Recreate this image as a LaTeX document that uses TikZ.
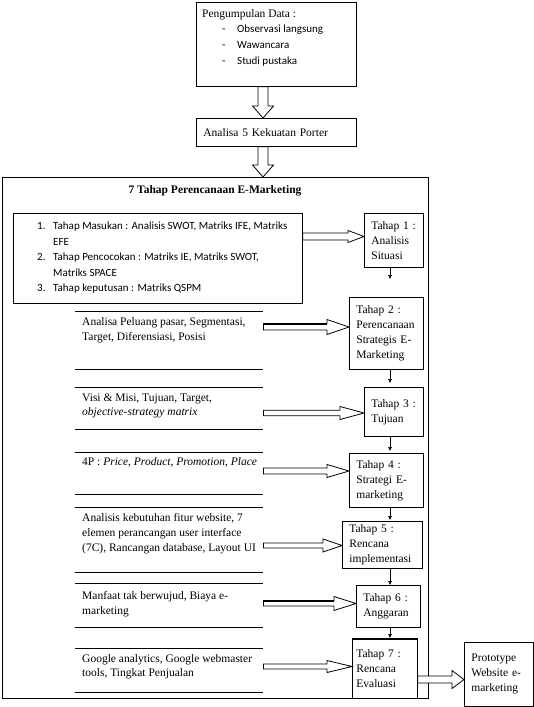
\documentclass[tikz,border=0pt]{standalone}
\usepackage{fontspec}
\setmainfont{Liberation Serif}
\newfontfamily\carl{Carlito}
\usetikzlibrary{arrows.meta,calc}
\tikzset{
  box/.style={draw, line width=0.8pt, anchor=north west, inner sep=0pt},
  tbox/.style={draw, line width=0.8pt, anchor=north west, align=left, inner xsep=7pt, inner ysep=0pt, font=\fontsize{11.5}{15}\selectfont},
  blk/.style={anchor=north west, inner sep=0pt, minimum width=188pt},
  ln/.style={anchor=west, inner sep=0pt, text height=8pt, text depth=2.5pt, font=\fontsize{11.5}{14}\selectfont},
  lnc/.style={ln, font=\carl\fontsize{11}{14}\selectfont},
  rulel/.style={line width=0.8pt},
  smallarr/.style={-{Latex[length=4pt,width=4pt]}, line width=0.5pt},
  barrow/.style={draw, line width=0.8pt, fill=white}
}
\newcommand\harr[5]{%
  \draw[barrow] let \p1=(#1), \p2=(#2) in
   (\x1,\y2+#3) -- (\x2-#5,\y2+#3) -- (\x2-#5,\y2+#4) -- (\x2,\y2)
   -- (\x2-#5,\y2-#4) -- (\x2-#5,\y2-#3) -- (\x1,\y2-#3) -- cycle;}
\newcommand\harrtop[5]{%
  \draw[line width=1.6pt] let \p1=(#1), \p2=(#2) in
   (\x1,\y2+#3) -- (\x2-#5,\y2+#3);}
\newcommand\varr[5]{%
  \draw[barrow] let \p1=(#1), \p2=(#2) in
   (\x2-#3,\y1) -- (\x2-#3,\y2+#5) -- (\x2-#4,\y2+#5) -- (\x2,\y2)
   -- (\x2+#4,\y2+#5) -- (\x2+#3,\y2+#5) -- (\x2+#3,\y1) -- cycle;}
\begin{document}
\begin{tikzpicture}[x=1pt,y=-1pt]
\useasboundingbox (0,0) rectangle (534,707);
\coordinate (xv) at (263,0);
\coordinate (xs) at (390,0);
% top boxes
\node[box, minimum width=160pt, minimum height=84pt] (data) at (196,2) {};
\node[ln] (d0) at (202,15) {Pengumpulan Data :};
\node[lnc] (d1m) at (222,30) {-};
\node[lnc] (d1) at (237,30) {Observasi langsung};
\node[lnc] (d2m) at (222,46) {-};
\node[lnc] (d2) at (237,46) {Wawancara};
\node[lnc] (d3m) at (222,62) {-};
\node[lnc] (d3) at (237,62) {Studi pustaka};
\node[tbox, minimum width=160pt, minimum height=28pt, text width=146pt] (ana) at (196,118) {Analisa 5 Kekuatan Porter};
% frame
\node[box, minimum width=426pt, minimum height=521pt] (frame) at (2,177) {};
\varr{data.south}{ana.north -| xv}{5pt}{10.5pt}{12pt}
\varr{ana.south}{frame.north -| xv}{5pt}{10.5pt}{12pt}
\node[font=\bfseries\fontsize{11.5}{14}\selectfont] (title) at (215,191) {7 Tahap Perencanaan E-Marketing};
% inner list box
\node[box, minimum width=289pt, minimum height=90pt] (list) at (13,213) {};
\node[lnc] (n1) at (37,227) {1.};
\node[lnc] (l1) at (53,227) {Tahap Masukan : Analisis SWOT, Matriks IFE, Matriks};
\node[lnc] (l1b) at (53,243) {EFE};
\node[lnc] (n2) at (37,258) {2.};
\node[lnc] (l2) at (53,258) {Tahap Pencocokan : Matriks IE, Matriks SWOT,};
\node[lnc] (l2b) at (53,274) {Matriks SPACE};
\node[lnc] (n3) at (37,289) {3.};
\node[lnc] (l3) at (53,289) {Tahap keputusan : Matriks QSPM};
% Tahap boxes
\node[tbox, minimum width=59pt, minimum height=54pt, text width=45pt] (T1) at (364,213) {Tahap 1 :\\Analisis\\Situasi};
\node[tbox, minimum width=74pt, minimum height=72pt, text width=60pt] (T2) at (349,297) {Tahap 2 :\\Perencanaan\\Strategis E-\\Marketing};
\node[tbox, minimum width=59pt, minimum height=49pt, text width=45pt] (T3) at (364,387) {Tahap 3 :\\Tujuan};
\node[tbox, minimum width=74pt, minimum height=54pt, text width=60pt] (T4) at (349,453) {Tahap 4 :\\Strategi E-\\marketing};
\node[tbox, minimum width=80pt, minimum height=47pt, text width=66pt] (T5) at (342,521) {Tahap 5 :\\Rencana\\implementasi};
\node[tbox, minimum width=64pt, minimum height=42pt, text width=50pt] (T6) at (356,585) {Tahap 6 :\\Anggaran};
\node[tbox, minimum width=65pt, minimum height=59pt, text width=57pt, inner xsep=4pt] (T7) at (352,639) {Tahap 7 :\\Rencana\\Evaluasi};
\draw[line width=1.8pt] (T7.north west) -- (T7.north east);
\node[tbox, minimum width=69pt, minimum height=64pt, text width=55pt] (P) at (464,642) {Prototype\\Website e-\\marketing};
% small arrows
\draw[smallarr, shorten >=18pt] (T1.south -| xs) -- (T2.north -| xs);
\draw[smallarr, shorten >=4pt] (T2.south -| xs) -- (T3.north -| xs);
\draw[smallarr, shorten >=2pt] (T3.south -| xs) -- (T4.north -| xs);
\draw[smallarr, shorten >=1pt] (T4.south -| xs) -- (T5.north -| xs);
\draw[smallarr] (T5.south -| xs) -- (T6.north -| xs);
\draw[smallarr, shorten >=1pt] (T6.south -| xs) -- (T7.north -| xs);
% left blocks
\node[blk, minimum height=58pt] (bA) at (75,311) {};
\node[blk, minimum height=42pt] (bB) at (75,387) {};
\node[blk, minimum height=42pt] (bC) at (75,452) {};
\node[blk, minimum height=65pt] (bD) at (75,507) {};
\node[blk, minimum height=44pt] (bE) at (75,583) {};
\node[blk, minimum height=44pt] (bF) at (75,648) {};
\foreach \b in {bA,bB,bC,bD,bE,bF}{
  \draw[rulel] (\b.north west) -- (\b.north east) (\b.south west) -- (\b.south east);
}
\node[ln] (a1) at (82,323) {Analisa Peluang pasar, Segmentasi,};
\node[ln] (a2) at (82,338) {Target, Diferensiasi, Posisi};
\node[ln] (b1) at (82,399) {Visi \& Misi, Tujuan, Target,};
\node[ln] (b2) at (82,413) {\textit{objective-strategy matrix}};
\node[ln] (c1) at (82,463) {4P : \textit{Price}, \textit{Product}, \textit{Promotion}, \textit{Place}};
\node[ln] (e1) at (82,519) {Analisis kebutuhan fitur website, 7};
\node[ln] (e2) at (82,534) {elemen perancangan user interface};
\node[ln] (e3) at (82,549) {(7C), Rancangan database, Layout UI};
\node[ln] (f1) at (82,597) {Manfaat tak berwujud, Biaya e-};
\node[ln] (f2) at (82,612) {marketing};
\node[ln] (g1) at (82,660) {Google analytics, Google webmaster};
\node[ln] (g2) at (82,674) {tools, Tingkat Penjualan};
% block arrows
\coordinate (y1) at (0,236.5);
\coordinate (yA) at (0,327);
\coordinate (yB) at (0,413);
\coordinate (yC) at (0,471);
\coordinate (yD) at (0,545.5);
\coordinate (yE) at (0,603.5);
\coordinate (yF) at (0,666.5);
\coordinate (yG) at (0,679.5);
\harr{list.east}{T1.west |- y1}{3.5pt}{6pt}{16pt}
\harr{bA.east}{T2.west |- yA}{3pt}{7.5pt}{22pt}
\harrtop{bA.east}{T2.west |- yA}{3pt}{7.5pt}{22pt}
\harr{bB.east}{T3.west |- yB}{2.7pt}{6.5pt}{24pt}
\harr{bC.east}{T4.west |- yC}{3pt}{6.5pt}{22pt}
\harr{bD.east}{T5.west |- yD}{2.5pt}{6.5pt}{19pt}
\harr{bE.east}{T6.west |- yE}{2.5pt}{7pt}{22pt}
\harrtop{bE.east}{T6.west |- yE}{2.5pt}{7pt}{22pt}
\harr{bF.east}{T7.west |- yF}{2.5pt}{6pt}{25pt}
\harr{T7.east}{P.west |- yG}{3.5pt}{9pt}{12pt}
\end{tikzpicture}
\end{document}
